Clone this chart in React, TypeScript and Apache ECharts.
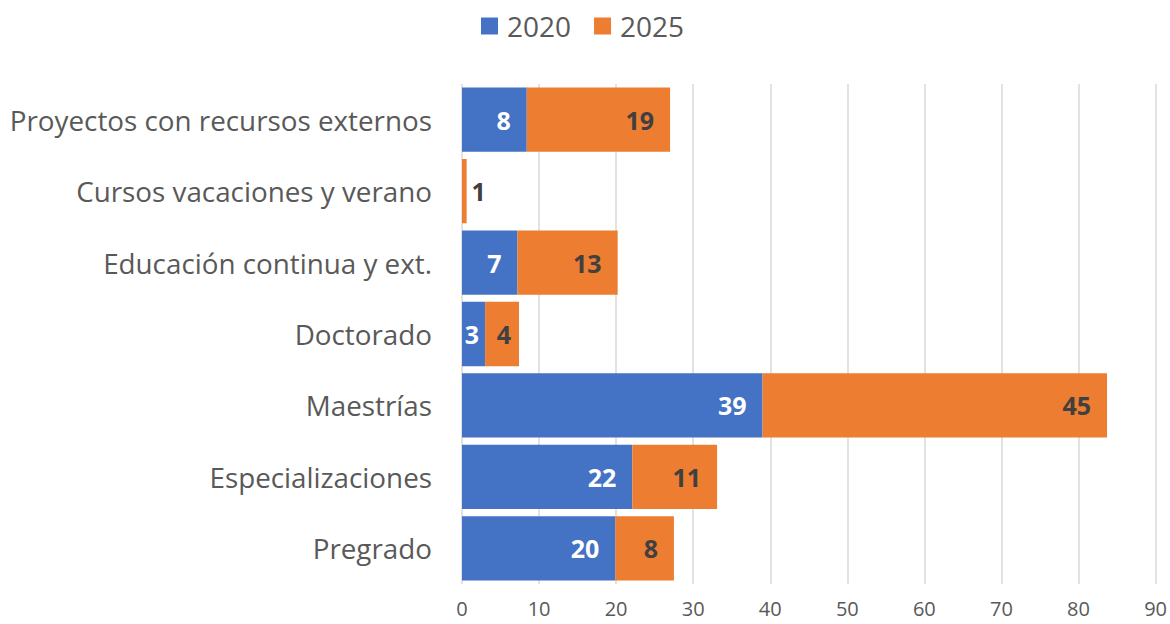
import React, { useEffect, useRef } from "react";
import * as echarts from "echarts";

const categories = [
  "Pregrado",
  "Especializaciones",
  "Maestrías",
  "Doctorado",
  "Educación continua y ext.",
  "Cursos vacaciones y verano",
  "Proyectos con recursos externos",
];
const values2020 = [19.9, 22.1, 39.0, 3.0, 7.2, 0, 8.4];
const values2025 = [7.6, 11.0, 44.7, 4.4, 13.0, 0.6, 18.6];
const xTicks = { min: 0, max: 90, interval: 10 };

const FONT = "'Open Sans', sans-serif";

export default function App() {
  const ref = useRef<HTMLDivElement>(null);
  useEffect(() => {
    document.body.style.margin = "0";
    if (!ref.current) return;
    const chart = echarts.init(ref.current, null, { renderer: "svg" });
    const fmt = (p: any) => {
      const v = typeof p.value === "object" ? p.value.value : p.value;
      return v ? String(Math.round(v)) : "";
    };
    chart.setOption({
      animation: false,
      textStyle: { fontFamily: FONT },
      legend: {
        top: 7,
        left: 476,
        itemWidth: 17,
        itemHeight: 17,
        itemGap: 23,
        icon: "rect",
        textStyle: {
          fontSize: 28,
          color: "#595959",
          fontFamily: FONT,
          padding: [0, 0, 0, 4],
        },
        data: ["2020", "2025"],
      },
      grid: { left: 462, right: 13, top: 84, bottom: 40 },
      xAxis: {
        type: "value",
        min: xTicks.min,
        max: xTicks.max,
        interval: xTicks.interval,
        axisLine: { show: false },
        axisTick: { show: false },
        splitLine: { lineStyle: { color: "#d9d9d9", width: 1.5 } },
        axisLabel: { fontSize: 20, color: "#595959", margin: 14, fontFamily: FONT },
      },
      yAxis: {
        type: "category",
        data: categories,
        axisLine: { show: false },
        axisTick: { show: false },
        axisLabel: { fontSize: 27.8, color: "#595959", margin: 30, fontFamily: FONT },
      },
      series: [
        {
          name: "2020",
          type: "bar",
          stack: "total",
          barCategoryGap: "10%",
          itemStyle: { color: "#4472C4" },
          label: {
            show: true,
            position: "insideRight",
            distance: 16,
            color: "#ffffff",
            fontWeight: "bold",
            fontSize: 25,
            fontFamily: FONT,
            formatter: fmt,
          },
          data: values2020.map((v) =>
            v > 0 && v < 5 ? { value: v, label: { distance: 6 } } : v
          ),
        },
        {
          name: "2025",
          type: "bar",
          stack: "total",
          barCategoryGap: "10%",
          itemStyle: { color: "#ED7D31" },
          label: {
            show: true,
            position: "insideRight",
            distance: 16,
            color: "#404040",
            fontWeight: "bold",
            fontSize: 25,
            fontFamily: FONT,
            formatter: fmt,
          },
          data: values2025.map((v) =>
            v < 2
              ? { value: v, label: { position: "right", distance: 5 } }
              : v < 5
              ? { value: v, label: { distance: 8 } }
              : v
          ),
        },
      ],
    });
    return () => chart.dispose();
  }, []);
  return <div ref={ref} style={{ width: 1170, height: 624 }} />;
}
